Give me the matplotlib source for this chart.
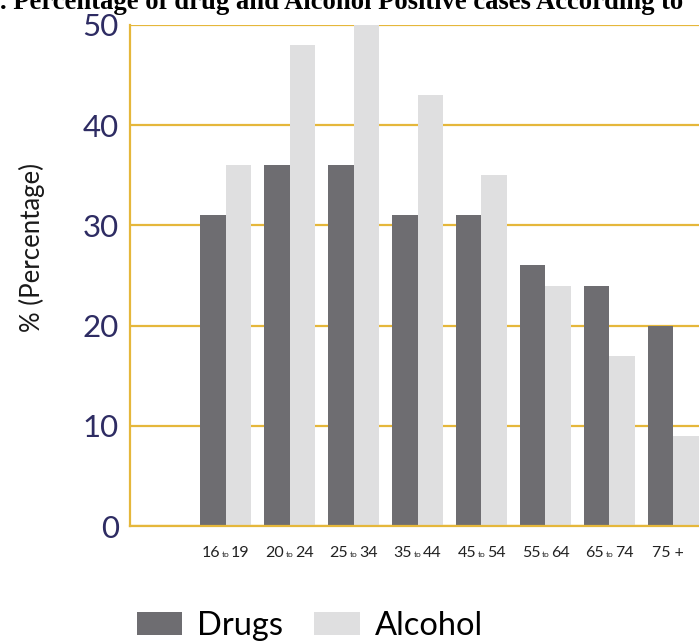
import matplotlib
matplotlib.use("Agg")
import matplotlib.pyplot as plt
import numpy as np

# data
groups = ["16 to 19", "20 to 24", "25 to 34", "35 to 44", "45 to 54", "55 to 64", "65 to 74", "75 +"]
drugs = [31, 36, 36, 31, 31, 26, 24, 20]
alcohol = [36, 48, 50, 43, 35, 24, 17, 9]
yticks = [0, 10, 20, 30, 40, 50]

gold = "#E5B73B"
navy = "#2E2C63"
dark = "#6E6D71"
light = "#DFDFE0"

plt.rcParams['font.family'] = ['Lato', 'DejaVu Sans']

fig = plt.figure(figsize=(6.99, 6.41), dpi=100)
ax = fig.add_axes([0.186, 0.1794, 0.814, 0.7816])

x = np.arange(len(groups))
w = 0.4
ax.bar(x - w/2, drugs, w, color=dark, zorder=3, label="Drugs")
ax.bar(x + w/2, alcohol, w, color=light, zorder=3, label="Alcohol")

ax.set_xlim(-1.494, 7.40)
ax.set_ylim(0, 50)
ax.set_yticks(yticks)
ax.set_yticklabels([str(v) for v in yticks], color=navy, fontsize=22.5)
ax.tick_params(axis='y', length=0, pad=8)
ax.set_xticks([])
ax.yaxis.grid(True, color=gold, linewidth=1.6, zorder=0)
ax.set_axisbelow(True)
for s in ["top", "right"]:
    ax.spines[s].set_visible(False)
for s in ["left", "bottom"]:
    ax.spines[s].set_color(gold)
    ax.spines[s].set_linewidth(1.6)
    ax.spines[s].set_zorder(4)
ax.set_ylabel("% (Percentage)", fontsize=18.5, color="#1a1a1a")
ax.yaxis.set_label_coords(-0.149, 0.555)

# x labels with a small "to"
trans = ax.get_xaxis_transform()
for i, g in enumerate(groups):
    if " to " in g:
        lo, hi = g.split(" to ")
        ax.annotate(lo, (i, 0), xycoords=trans, xytext=(-3.8, -22.5), textcoords="offset points",
                    ha="right", va="baseline", fontsize=11.5, color="#222222")
        ax.annotate("to", (i, 0), xycoords=trans, xytext=(0, -22.5), textcoords="offset points",
                    ha="center", va="baseline", fontsize=6, color="#222222")
        ax.annotate(hi, (i, 0), xycoords=trans, xytext=(3.8, -22.5), textcoords="offset points",
                    ha="left", va="baseline", fontsize=11.5, color="#222222")
    else:
        ax.annotate(g, (i, 0), xycoords=trans, xytext=(-4, -22.5), textcoords="offset points",
                    ha="center", va="baseline", fontsize=11.5, color="#222222")

fig.legend(loc="center", bbox_to_anchor=(0.443, 0.024), ncol=2, frameon=False,
           fontsize=23.5, handlelength=1.4, handleheight=0.72, handletextpad=0.45,
           columnspacing=0.95)

fig.text(0.0, 0.986, ". Percentage of drug and Alcohol Positive cases According to",
         ha="left", va="baseline", fontsize=19.2, fontweight="bold",
         family="Liberation Serif")

fig.savefig("out.png", dpi=100)
